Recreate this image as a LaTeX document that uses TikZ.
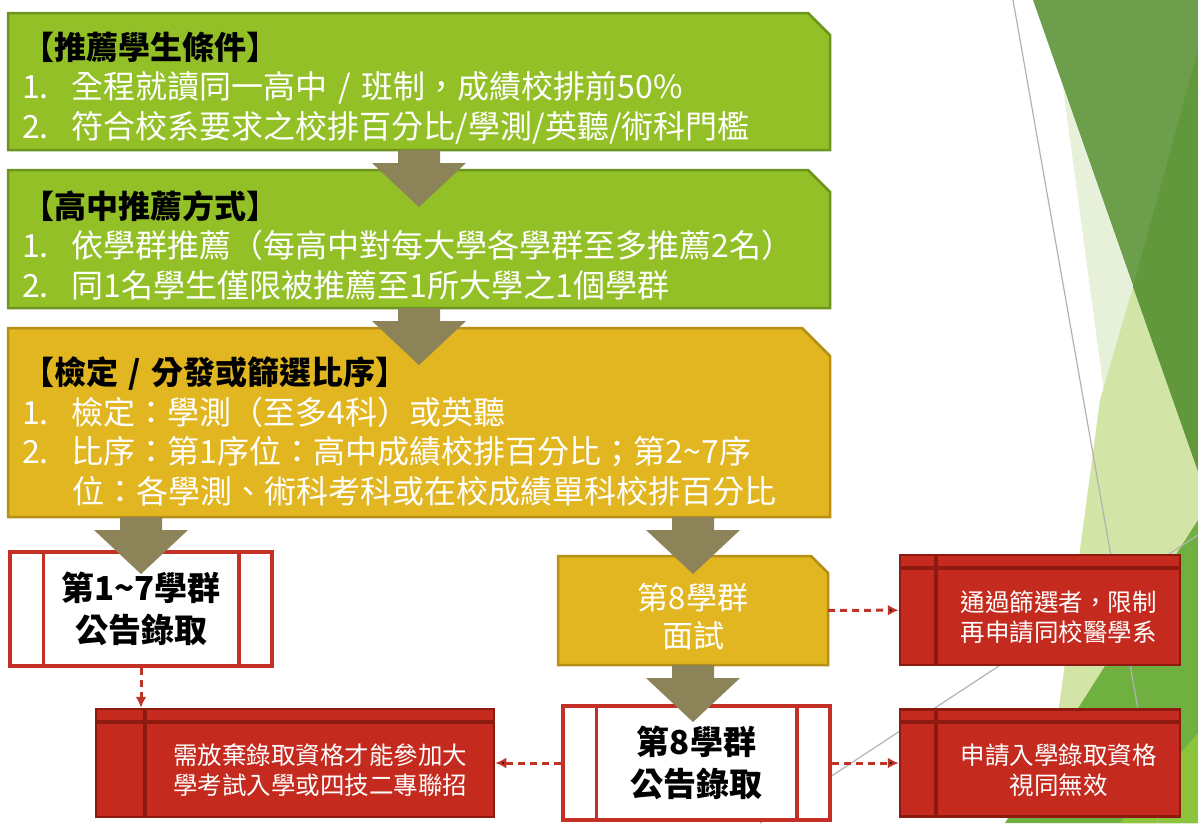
\documentclass[tikz,border=0pt]{standalone}
\usepackage{fontspec}
\setmainfont{Noto Sans CJK TC}
\usetikzlibrary{positioning,backgrounds,arrows.meta}

\definecolor{stepgreenfill}{RGB}{146,192,38}
\definecolor{stepgreenline}{RGB}{108,148,30}
\definecolor{stepgoldfill}{RGB}{226,182,32}
\definecolor{stepgoldline}{RGB}{182,144,22}
\definecolor{flowfill}{RGB}{140,131,88}
\definecolor{resultred}{RGB}{196,48,38}
\definecolor{notefill}{RGB}{196,42,30}
\definecolor{notedark}{RGB}{140,26,16}
\definecolor{dashred}{RGB}{192,52,40}
\definecolor{facetdark}{RGB}{108,158,76}
\definecolor{facetdeep}{RGB}{98,152,60}
\definecolor{facetlight}{RGB}{210,228,166}
\definecolor{facetpale}{RGB}{231,240,216}
\definecolor{facetbright}{RGB}{112,176,64}
\definecolor{facetlime}{RGB}{140,196,60}

\newcommand{\stepfont}{\fontsize{32}{39.5}\selectfont}
\newcommand{\stephead}[1]{{\bfseries\color{black}\rule{0pt}{40pt}#1}}
\newcommand{\stepitem}[2]{\makebox[50pt][l]{#1}#2}
\newcommand{\flowarrow}[1]{\fill[flowfill] ([xshift=-21pt]#1) -- ++(42,0) -- ++(0,13) -- ++(26,0) -- ++(-47,44) -- ++(-47,-44) -- ++(26,0) -- cycle;}
\newcommand{\stepshape}[4]{\path[fill=#3, draw=#4, line width=2.5pt] (#1.south west) -- (#1.north west) -- ([xshift=-#2]#1.north east) -- ([yshift=-#2]#1.north east) -- (#1.south east) -- cycle;}

\tikzset{every node/.style={align=center}, >= latex,
  stepbox/.style={rectangle, minimum width=822pt, minimum height=137pt,
    inner sep=0pt, outer sep=0pt, text width=794pt, align=left, text=white, font=\stepfont},
  interview/.style={rectangle, minimum width=270pt, minimum height=109pt,
    inner sep=0pt, outer sep=0pt, text=white, font=\fontsize{31}{38}\selectfont},
  resultbox/.style={rectangle, fill=white, draw=resultred, line width=3.5pt,
    minimum width=262pt, minimum height=114pt, inner sep=0pt,
    font=\fontsize{33}{42}\selectfont\bfseries},
  resultrule/.style={draw=resultred, line width=3.5pt},
  notebox/.style={rectangle, fill=notefill, draw=notedark, line width=2.5pt, inner sep=0pt},
  notetext/.style={text=white, font=\fontsize{24.5}{30}\selectfont},
  noterule/.style={draw=notedark, line width=4pt},
  dashflow/.style={draw=dashred, line width=3pt, dash pattern=on 7pt off 5pt,
    >={Latex[length=11pt,width=11pt]}},
  facetline/.style={draw=black!30, line width=1.2pt}}

\begin{document}
\begin{tikzpicture}[x=1pt, y=-1pt]
    \useasboundingbox (0,0) rectangle (1198,823);

    % steps
    \node[stepbox] (s1) at (419,81.5) {\stephead{【推薦學生條件】}\\
        \stepitem{1.}{全程就讀同一高中 / 班制，成績校排前50\%}\\
        \stepitem{2.}{符合校系要求之校排百分比/學測/英聽/術科門檻}};
    \node[stepbox, minimum height=138pt, node distance=157.5pt] (s2) [below of = s1] {\stephead{【高中推薦方式】}\\
        \stepitem{1.}{依學群推薦（每高中對每大學各學群至多推薦2名）}\\
        \stepitem{2.}{同1名學生僅限被推薦至1所大學之1個學群}};
    \node[stepbox, minimum height=189pt, node distance=183.5pt] (s3) [below of = s2] {\stephead{\rule{0pt}{46pt}【檢定 / 分發或篩選比序】}\\
        \stepitem{1.}{檢定：學測（至多4科）或英聽}\\
        \stepitem{2.}{比序：第1序位：高中成績校排百分比；第2\textasciitilde 7序}\\
        \hspace*{50pt}位：各學測、術科考科或在校成績單科校排百分比};

    % results
    \node[resultbox] (b17) at (141,609) {第1\textasciitilde 7學群\\公告錄取};
    \node[interview] (i8) at (693,610.5) {\rule{0pt}{39pt}第8學群\\面試};
    \node[resultbox, minimum width=267pt] (b8) at (696.5,763) {第8學群\\公告錄取};
    \foreach \n in {b17, b8} {
        \draw[resultrule] ([xshift=35pt]\n.north west) -- ([xshift=35pt]\n.south west);
        \draw[resultrule] ([xshift=-35pt]\n.north east) -- ([xshift=-35pt]\n.south east);
    }

    % notes
    \node[notebox, minimum width=280pt, minimum height=110pt] (r1) at (1040,610) {};
    \node[notebox, minimum width=280pt, minimum height=107pt, node distance=153pt] (r2) [below of = r1] {};
    \node[notebox, minimum width=398pt, minimum height=108pt] (r0) at (295,763) {};
    \foreach \n/\w in {r0/50, r1/37, r2/37} {
        \draw[noterule] ([yshift=-14pt]\n.north west) -- ([yshift=-14pt]\n.north east);
        \draw[noterule] ([xshift=\w pt]\n.north west) -- ([xshift=\w pt]\n.south west);
    }
    \node[notetext] (n1) at ([shift={(18.5pt,-7pt)}]r1.center) {通過篩選者，限制\\再申請同校醫學系};
    \node[notetext] (n2) at ([shift={(18.5pt,-7pt)}]r2.center) {申請入學錄取資格\\視同無效};
    \node[notetext] (n0) at ([shift={(25pt,-7pt)}]r0.center) {需放棄錄取資格才能參加大\\學考試入學或四技二專聯招};

    \begin{scope}[on background layer]
        % background facets
        \fill[facetpale] (1063,87) -- (1133,287) -- (1104,392) -- cycle;
        \fill[facetlight] (1133,287) -- (1198,470) -- (1198,823) -- (1040,823) -- (1060,700) -- (1100,400) -- cycle;
        \fill[facetbright] (1198,520) -- (1198,823) -- (1005,823) -- cycle;
        \fill[facetlime] (1198,733) -- (1198,823) -- (1120,823) -- cycle;
        \fill[facetdark] (1033,0) -- (1198,0) -- (1198,471) -- cycle;
        \fill[facetdeep] (1198,50) -- (1133,287) -- (1198,471) -- cycle;
        \draw[facetline] (1013,0) -- (1158,823);
        \draw[facetline] (760,823) -- (1198,535);
        % step shapes
        \stepshape{s1}{22pt}{stepgreenfill}{stepgreenline}
        \stepshape{s2}{22pt}{stepgreenfill}{stepgreenline}
        \stepshape{s3}{28pt}{stepgoldfill}{stepgoldline}
        \stepshape{i8}{17pt}{stepgoldfill}{stepgoldline}
    \end{scope}

    % flow arrows
    \coordinate (a3) at (b17.north |- s3.south);
    \coordinate (a4) at (i8.north |- s3.south);
    \flowarrow{s1.south}
    \flowarrow{s2.south}
    \flowarrow{a3}
    \flowarrow{a4}
    \flowarrow{i8.south}

    % dashed links
    \draw[dashflow, ->] (b17.south) -- (b17.south |- r0.north);
    \path[dashflow, ->] (i8) edge (r1)
        (b8) edge (r2)
        (b8) edge (r0);
\end{tikzpicture}
\end{document}
